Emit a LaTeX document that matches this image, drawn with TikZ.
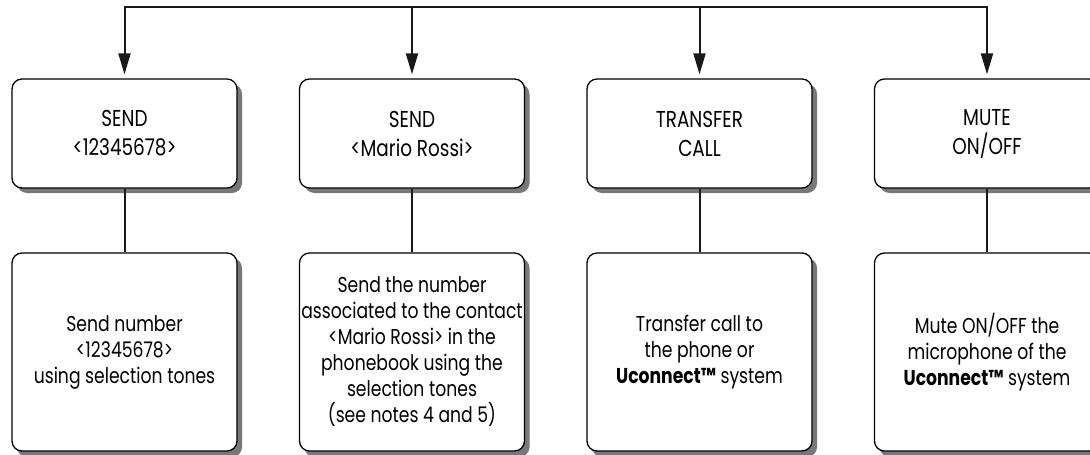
\documentclass[tikz,border=0pt]{standalone}
\usepackage{fontspec}
\setmainfont[FakeStretch=0.8]{Poppins}
\usetikzlibrary{arrows.meta}
\definecolor{shadowgray}{RGB}{120,120,124}
\begin{document}
\begin{tikzpicture}[x=1pt,y=-1pt,
  box/.style={draw=black,line width=1.3pt,fill=white,rounded corners=10pt,
    minimum width=225pt,inner sep=0pt,align=center},
  topbox/.style={box,minimum height=109pt,font=\fontsize{23}{29}\selectfont},
  botbox/.style={box,minimum height=198pt,font=\fontsize{21.5}{26}\selectfont},
  shadowbox/.style={fill=shadowgray,rounded corners=10pt},
  conn/.style={line width=2pt,draw=black!90},
  arr/.style={conn,-{Triangle[length=21pt,width=12pt]},shorten >=4pt}]
\useasboundingbox (0,0) rectangle (1090,455);
\fill[shadowbox] (17,84) rectangle (242,193);
\fill[shadowbox] (304.5,84) rectangle (529.5,193);
\fill[shadowbox] (592,84) rectangle (817,193);
\fill[shadowbox] (879.5,84) rectangle (1104.5,193);
\fill[shadowbox] (17,258) rectangle (242,457);
\fill[shadowbox] (304.5,258) rectangle (529.5,457);
\fill[shadowbox] (592,258) rectangle (817,457);
\fill[shadowbox] (879.5,258) rectangle (1104.5,457);
\node[topbox] (t1) at (124.5,133.5) {SEND\\<12345678>};
\node[topbox] (t2) at (412,133.5) {SEND\\<Mario Rossi>};
\node[topbox] (t3) at (699.5,133.5) {TRANSFER\\CALL};
\node[topbox] (t4) at (987,133.5) {MUTE\\ON/OFF};
\node[botbox] (b1) at (124.5,352) {Send number\\<12345678>\\using selection tones};
\node[botbox] (b2) at (412,352) {Send the number\\associated to the contact\\<Mario Rossi> in the\\phonebook using the\\selection tones\\(see notes 4 and 5)};
\node[botbox] (b3) at (699.5,352) {Transfer call to\\the phone or\\\textbf{Uconnect™} system};
\node[botbox] (b4) at (987,352) {Mute ON/OFF the\\microphone of the\\\textbf{Uconnect™} system};
\coordinate (h1) at (124.5,7);
\coordinate (h2) at (412,7);
\coordinate (h3) at (699.5,7);
\coordinate (h4) at (987,7);
\draw[conn,line cap=rect] (h1) -- (h4);
\draw[arr] (h1) -- (t1.north);
\draw[arr] (h2) -- (t2.north);
\draw[arr] (h3) -- (t3.north);
\draw[arr] (h4) -- (t4.north);
\draw[conn] (t1.south) -- (b1.north);
\draw[conn] (t2.south) -- (b2.north);
\draw[conn] (t3.south) -- (b3.north);
\draw[conn] (t4.south) -- (b4.north);
\end{tikzpicture}
\end{document}
